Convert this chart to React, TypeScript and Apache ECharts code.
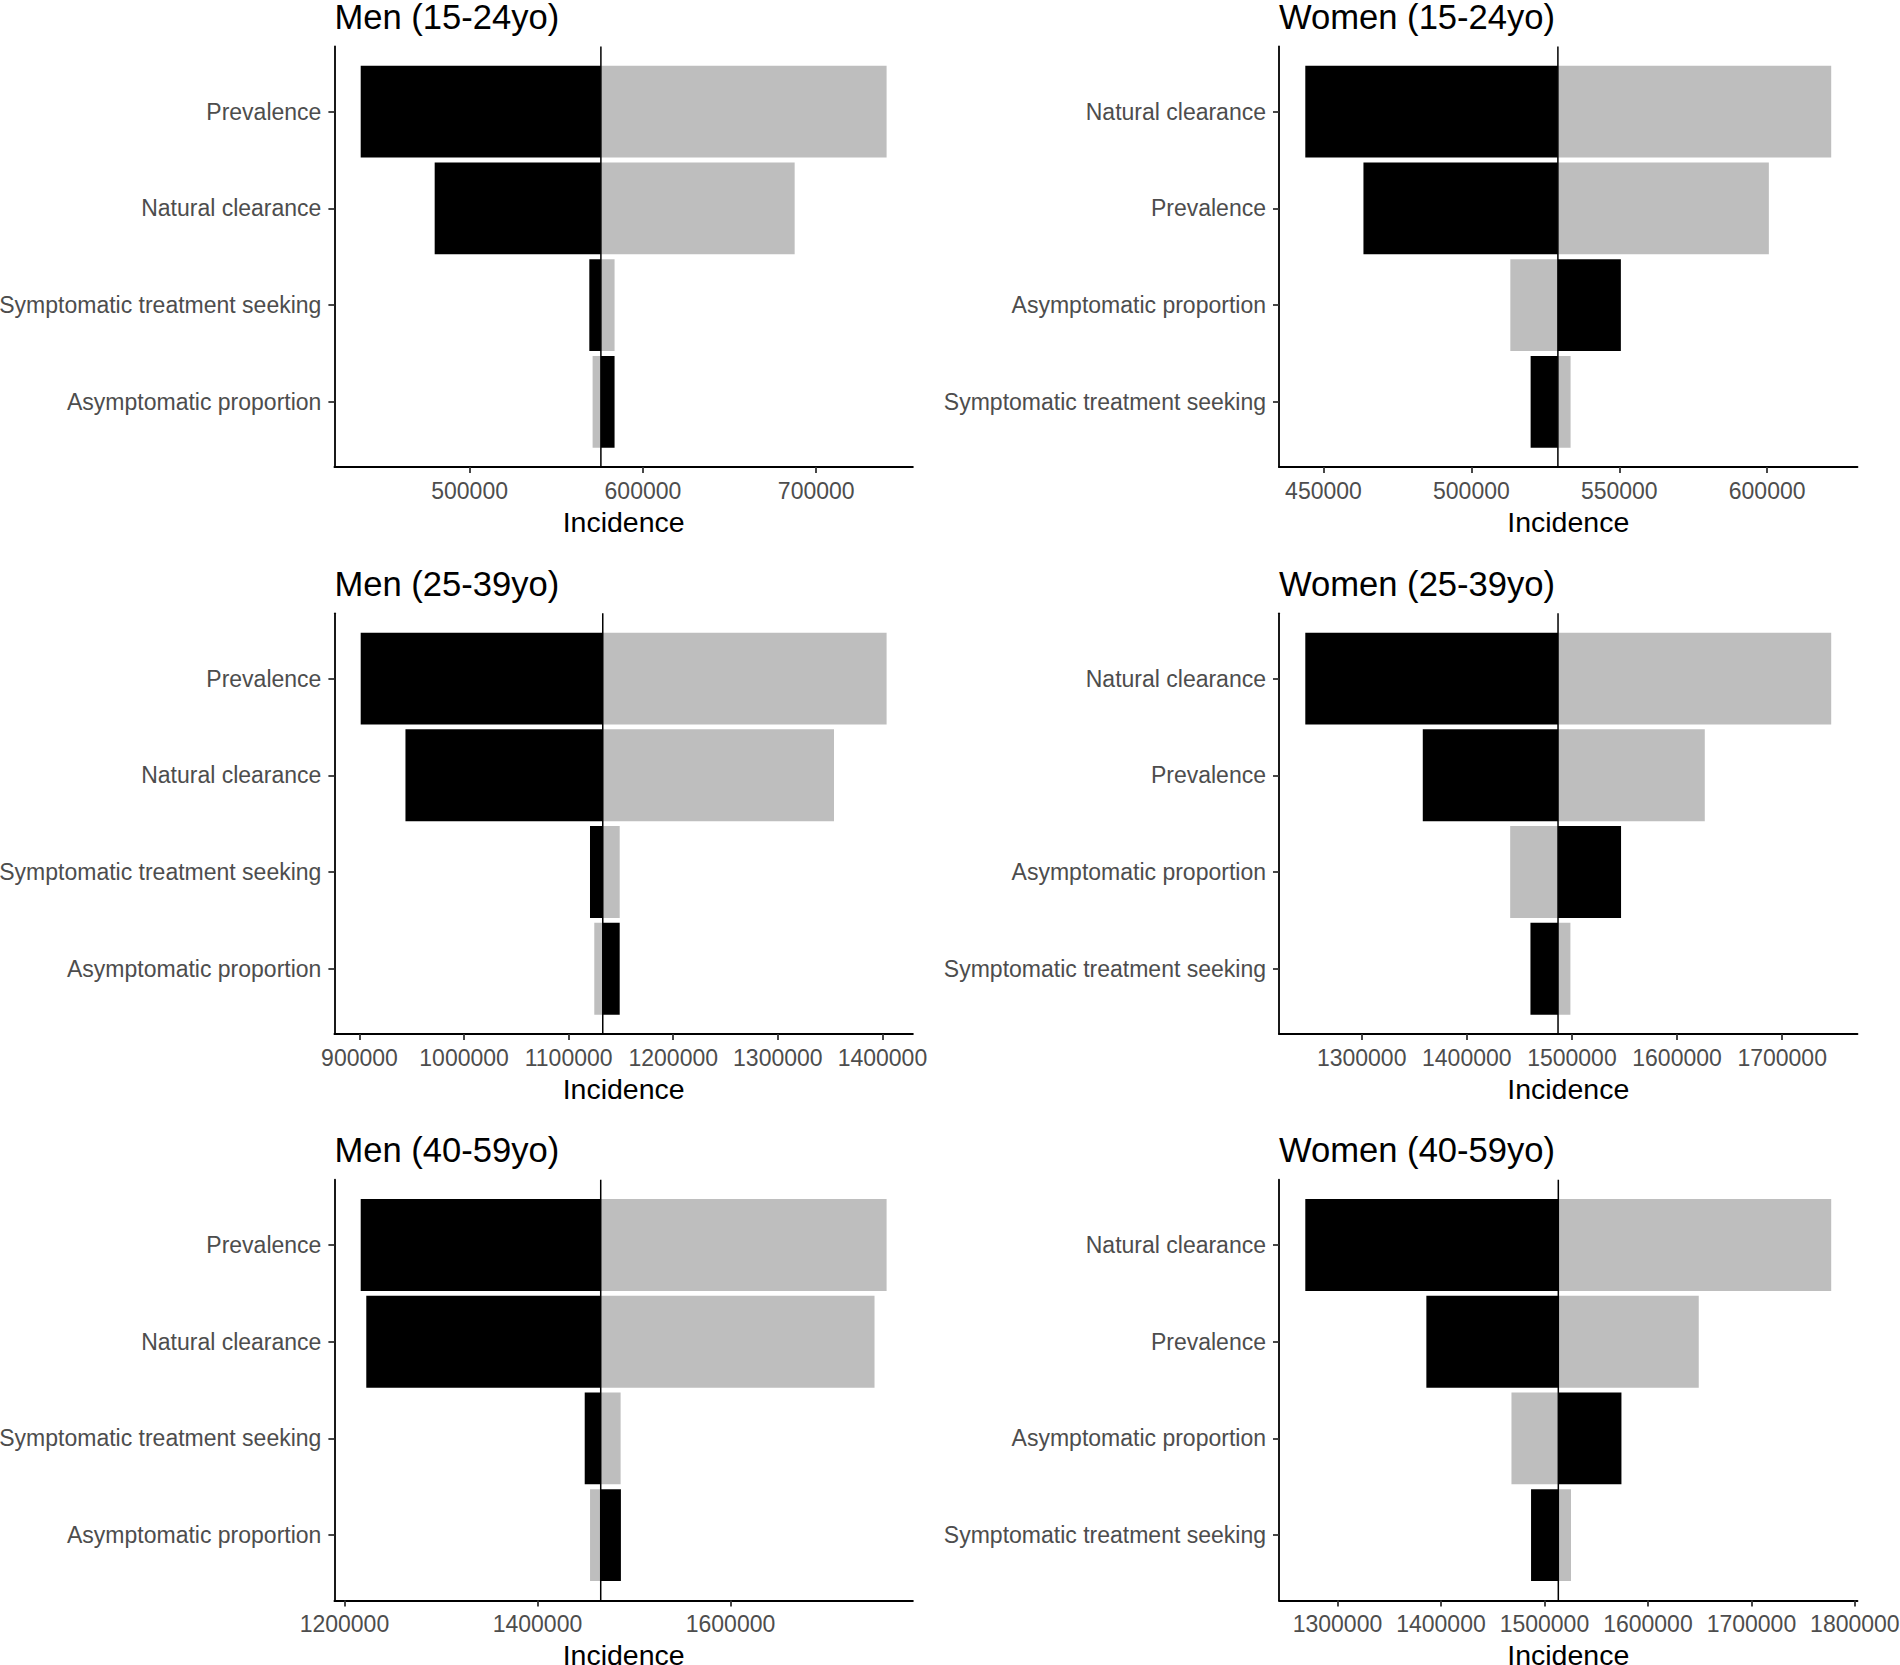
import React, { useEffect, useRef } from "react";
import * as echarts from "echarts";

// ---------- data ----------
const panelTitles = [
  "Men (15-24yo)",
  "Women (15-24yo)",
  "Men (25-39yo)",
  "Women (25-39yo)",
  "Men (40-59yo)",
  "Women (40-59yo)",
];

const menCategories = [
  "Prevalence",
  "Natural clearance",
  "Symptomatic treatment seeking",
  "Asymptomatic proportion",
];
const womenCategories = [
  "Natural clearance",
  "Prevalence",
  "Asymptomatic proportion",
  "Symptomatic treatment seeking",
];

// baseline incidence per panel
const baseIncidence = [575750, 529250, 1132600, 1486800, 1465540, 1513420];

// bar ends (black bars / grey bars), listed in category order top to bottom
const men1524Black = [437150, 479840, 569070, 583640];
const men1524Grey = [740610, 687560, 583640, 570970];
const women1524Black = [443850, 463510, 550540, 520030];
const women1524Grey = [621650, 600570, 513170, 533540];
const men2539Black = [901150, 943950, 1120400, 1148800];
const men2539Grey = [1404000, 1353700, 1148800, 1124500];
const women2539Black = [1246400, 1358150, 1546750, 1460570];
const women2539Grey = [1746650, 1626400, 1441280, 1498570];
const men4059Black = [1216870, 1222660, 1448960, 1486460];
const men4059Grey = [1761720, 1749200, 1486150, 1454480];
const women4059Black = [1268920, 1385910, 1574420, 1487070];
const women4059Grey = [1777120, 1649130, 1468150, 1525680];

// x-axis tick labels per panel
const men1524Ticks = [500000, 600000, 700000];
const women1524Ticks = [450000, 500000, 550000, 600000];
const men2539Ticks = [900000, 1000000, 1100000, 1200000, 1300000, 1400000];
const women2539Ticks = [1300000, 1400000, 1500000, 1600000, 1700000];
const men4059Ticks = [1200000, 1400000, 1600000];
const women4059Ticks = [1300000, 1400000, 1500000, 1600000, 1700000, 1800000];

const xAxisTitle = "Incidence";

// ---------- layout / style ----------
const FONT = "'Liberation Sans', Arial, Helvetica, sans-serif";
const colLeft = [334.4, 1279];
const colWidth = 578.5;
const rowTop = [46.4, 613.3, 1179.7];
const rowHeight = 420.7;
const catPad = 0.675;
const barFrac = 0.95;
const BLACK = "#000000";
const GREY = "#BEBEBE";

export default function App() {
  const ref = useRef<HTMLDivElement>(null);

  useEffect(() => {
    if (!ref.current) return;
    const chart = echarts.init(ref.current, undefined, { renderer: "svg" });

    const panels = [
      { cats: menCategories, black: men1524Black, grey: men1524Grey, ticks: men1524Ticks },
      { cats: womenCategories, black: women1524Black, grey: women1524Grey, ticks: women1524Ticks },
      { cats: menCategories, black: men2539Black, grey: men2539Grey, ticks: men2539Ticks },
      { cats: womenCategories, black: women2539Black, grey: women2539Grey, ticks: women2539Ticks },
      { cats: menCategories, black: men4059Black, grey: men4059Grey, ticks: men4059Ticks },
      { cats: womenCategories, black: women4059Black, grey: women4059Grey, ticks: women4059Ticks },
    ];

    const titles: any[] = [];
    const grids: any[] = [];
    const xAxes: any[] = [];
    const yAxes: any[] = [];
    const series: any[] = [];

    const barRender = (params: any, api: any) => {
      const cat = api.value(0);
      const start = api.value(1);
      const end = api.value(2);
      const p0 = api.coord([start, cat]);
      const p1 = api.coord([end, cat]);
      const h = Math.abs(api.size([0, 1])[1]) * barFrac;
      return {
        type: "rect",
        shape: {
          x: Math.min(p0[0], p1[0]),
          y: p0[1] - h / 2,
          width: Math.abs(p1[0] - p0[0]),
          height: h,
        },
        style: { fill: api.visual("color") },
      };
    };

    panels.forEach((p, i) => {
      const col = i % 2;
      const row = Math.floor(i / 2);
      const left = colLeft[col];
      const top = rowTop[row];
      const base = baseIncidence[i];
      const all = [...p.black, ...p.grey, base];
      const lo = Math.min(...all);
      const hi = Math.max(...all);
      const pad = (hi - lo) * 0.05;
      const catIdx = p.cats.map((_, k) => k);

      titles.push({
        text: panelTitles[i],
        left: left,
        top: top - 47,
        padding: 0,
        textStyle: { fontFamily: FONT, fontSize: 34.6, fontWeight: "normal", color: "#000" },
      });
      grids.push({
        left,
        top,
        width: colWidth,
        height: rowHeight,
        containLabel: false,
        outerBoundsMode: "none",
      });
      xAxes.push({
        type: "value",
        gridIndex: i,
        min: lo - pad,
        max: hi + pad,
        splitLine: { show: false },
        axisLine: { show: true, onZero: false, lineStyle: { color: "#000", width: 1.8 } },
        axisTick: {
          show: true,
          length: 6,
          customValues: p.ticks,
          lineStyle: { color: "#333333", width: 1.8 },
        },
        axisLabel: {
          show: true,
          customValues: p.ticks,
          margin: 12,
          fontFamily: FONT,
          fontSize: 23,
          color: "#4D4D4D",
          formatter: (v: number) => String(Math.round(v)),
        },
        name: xAxisTitle,
        nameLocation: "middle",
        nameGap: 40,
        nameTextStyle: { fontFamily: FONT, fontSize: 28.5, color: "#000" },
      });
      yAxes.push({
        type: "value",
        gridIndex: i,
        inverse: true,
        min: -catPad,
        max: p.cats.length - 1 + catPad,
        splitLine: { show: false },
        axisLine: { show: true, onZero: false, lineStyle: { color: "#000", width: 1.8 } },
        axisTick: {
          show: true,
          length: 6,
          customValues: catIdx,
          lineStyle: { color: "#333333", width: 1.8 },
        },
        axisLabel: {
          show: true,
          customValues: catIdx,
          margin: 13,
          fontFamily: FONT,
          fontSize: 23,
          color: "#4D4D4D",
          formatter: (v: number) => p.cats[Math.round(v)] ?? "",
        },
      });
      series.push({
        type: "custom",
        name: "black",
        xAxisIndex: i,
        yAxisIndex: i,
        itemStyle: { color: BLACK },
        encode: { x: [1, 2], y: 0 },
        renderItem: barRender,
        data: p.black.map((v, k) => [k, base, v]),
        z: 2,
      });
      series.push({
        type: "custom",
        name: "grey",
        xAxisIndex: i,
        yAxisIndex: i,
        itemStyle: { color: GREY },
        encode: { x: [1, 2], y: 0 },
        renderItem: barRender,
        data: p.grey.map((v, k) => [k, base, v]),
        z: 2,
      });
      const yMin = -catPad;
      const yMax = p.cats.length - 1 + catPad;
      series.push({
        type: "custom",
        name: "baseline",
        xAxisIndex: i,
        yAxisIndex: i,
        encode: { x: 0 },
        renderItem: (params: any, api: any) => {
          const b = api.value(0);
          const a = api.coord([b, yMin]);
          const c = api.coord([b, yMax]);
          return {
            type: "line",
            shape: { x1: a[0], y1: a[1], x2: c[0], y2: c[1] },
            style: { stroke: "#000", lineWidth: 1.5 },
          };
        },
        data: [[base]],
        z: 3,
      });
    });

    chart.setOption({
      animation: false,
      backgroundColor: "#ffffff",
      textStyle: { fontFamily: FONT },
      title: titles,
      grid: grids,
      xAxis: xAxes,
      yAxis: yAxes,
      series,
    });

    return () => chart.dispose();
  }, []);

  return (
    <div
      ref={ref}
      style={{ position: "absolute", left: 0, top: 0, width: 1900, height: 1665 }}
    />
  );
}
